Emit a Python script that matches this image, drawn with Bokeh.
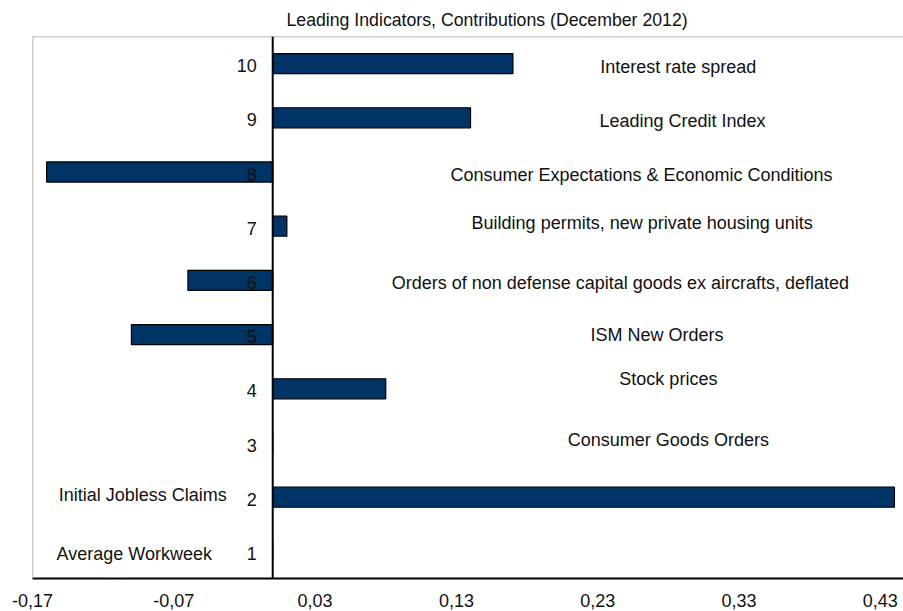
from bokeh.plotting import figure
from bokeh.models import Range1d, FixedTicker, Span, ColumnDataSource
from bokeh.core.properties import value
from bokeh.embed import file_html
from bokeh.resources import INLINE

# ---- data ----
categories = [1, 2, 3, 4, 5, 6, 7, 8, 9, 10]
contributions = [0.0, 0.44, 0.0, 0.08, -0.10, -0.06, 0.01, -0.16, 0.14, 0.17]
indicator_names = [
    "Average Workweek",
    "Initial Jobless Claims",
    "Consumer Goods Orders",
    "Stock prices",
    "ISM New Orders",
    "Orders of non defense capital goods ex aircrafts, deflated",
    "Building permits,  new  private housing units",
    "Consumer Expectations & Economic Conditions",
    "Leading Credit Index",
    "Interest rate spread",
]
tick_values = [-0.17, -0.07, 0.03, 0.13, 0.23, 0.33, 0.43]
tick_labels = ["-0,17", "-0,07", "0,03", "0,13", "0,23", "0,33", "0,43"]

# ---- layout of the name labels (data x, pixel y offset; negative = up) ----
name_x = [-0.098, -0.092, 0.280, 0.280, 0.272, 0.246, 0.265, 0.261, 0.290, 0.287]
name_dy = [3, -2, -3, -10, 0, 3, -3, 3, 3, 3]

FONT = "Liberation Sans"
x_start, x_end = -0.17, 0.4464
y_start, y_end = 0.5, 10.5

p = figure(width=903, height=611, output_backend="svg", toolbar_location=None,
           x_range=Range1d(x_start, x_end), y_range=Range1d(y_start, y_end),
           min_border_left=32, min_border_right=0, min_border_top=35, min_border_bottom=33,
           title="Leading Indicators, Contributions (December 2012)")

p.title.text_font = FONT
p.title.text_font_size = "17.7px"
p.title.text_font_style = "normal"
p.title.text_color = "#111111"
p.title.align = "left"
p.title.offset = 254
p.title.standoff = 14

p.outline_line_color = None
p.background_fill_color = "white"
p.border_fill_color = "white"
p.xgrid.visible = False
p.ygrid.visible = False
p.yaxis.visible = False

ax = p.xaxis[0]
ax.ticker = FixedTicker(ticks=tick_values)
ax.major_label_overrides = {v: s for v, s in zip(tick_values, tick_labels)}
ax.axis_line_color = "black"
ax.axis_line_width = 2
ax.major_tick_line_color = None
ax.minor_tick_line_color = None
ax.major_label_text_font = FONT
ax.major_label_text_font_size = "18px"
ax.major_label_text_color = "#111111"
ax.major_label_standoff = 9

# frame borders (left and top)
p.add_layout(Span(location=x_start, dimension="height", line_color="#a0a0a0", line_width=1.5))
p.add_layout(Span(location=y_end, dimension="width", line_color="#a0a0a0", line_width=1.5))

src = ColumnDataSource(dict(cat=categories, val=contributions,
                            names=indicator_names, nx=name_x, ndy=name_dy,
                            num=[str(c) for c in categories], zero=[0] * len(categories)))

p.hbar(y="cat", left=0, right="val", height=0.37, source=src,
       fill_color="#003366", line_color="black", line_width=1.2)

# zero line
p.add_layout(Span(location=0, dimension="height", line_color="black", line_width=2))

# category numbers next to the zero axis
p.text(x="zero", y="cat", text="num", source=src, x_offset=-16, y_offset=2,
       text_align="right", text_baseline="middle",
       text_font=value(FONT), text_font_size="18px", text_color="#111111")

# indicator names
p.text(x="nx", y="cat", text="names", source=src, y_offset="ndy",
       text_align="center", text_baseline="middle",
       text_font=value(FONT), text_font_size="18px", text_color="#111111")

open("out.html", "w").write(file_html(p, INLINE))
